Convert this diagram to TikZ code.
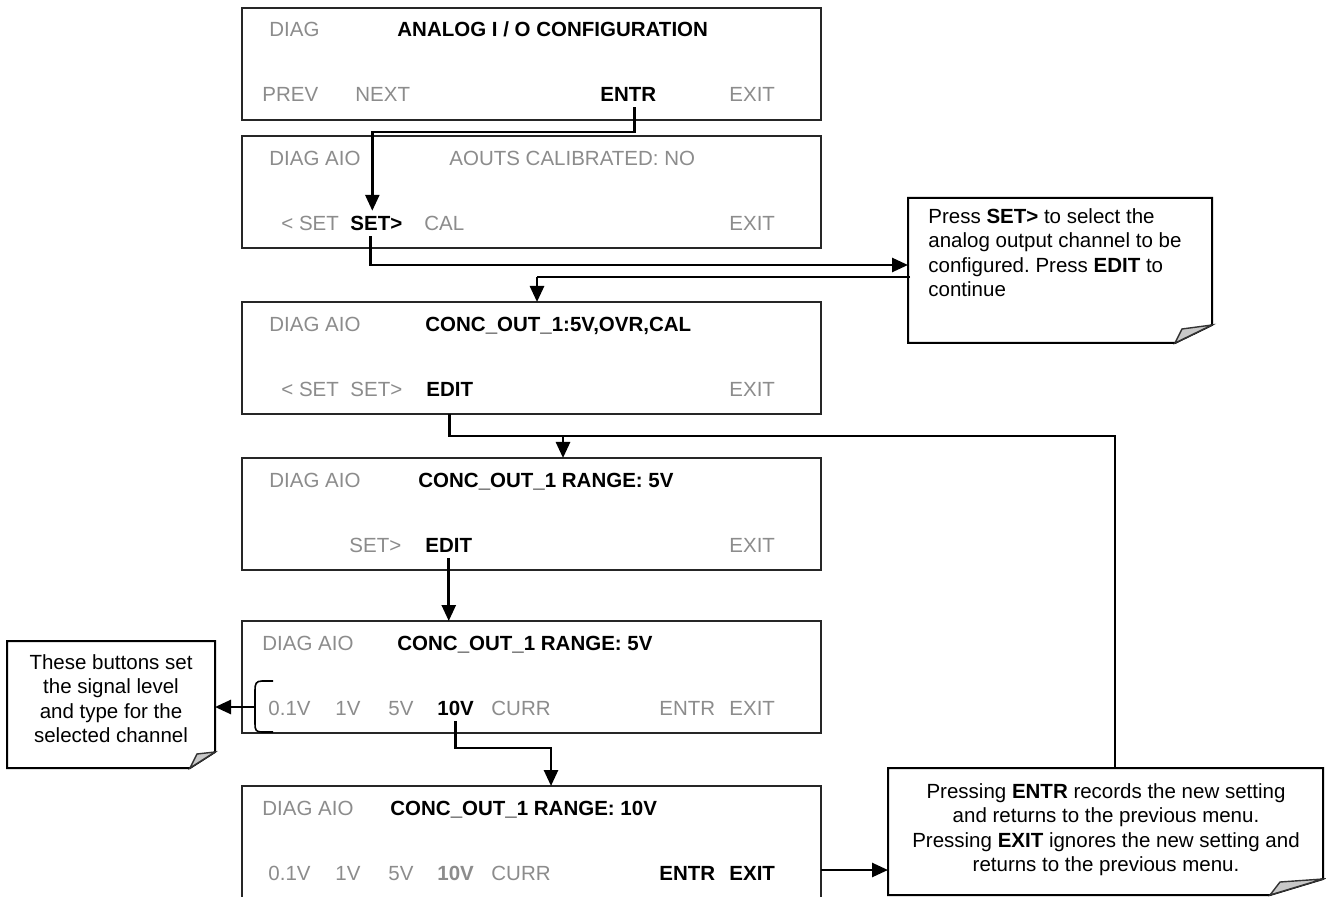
\documentclass[tikz,border=0pt]{standalone}
\usepackage{fontspec}
\setmainfont{Liberation Sans}
\usetikzlibrary{arrows.meta,calc}
\definecolor{lcdgray}{RGB}{140,140,140}
\definecolor{flapgray}{RGB}{200,200,200}
\newcommand{\lcdf}{\fontsize{10.25}{12.2}\selectfont}
\frenchspacing
\begin{document}
\begin{tikzpicture}[x=0.5pt,y=-0.5pt,
  lcdbox/.style={draw=black!85, line width=1pt, minimum width=289.5pt, minimum height=56pt, inner sep=0pt, outer sep=0pt},
  txt/.style={anchor=base west, inner xsep=0pt, inner ysep=2.5pt, font=\lcdf},
  gr/.style={txt, text=lcdgray},
  bd/.style={txt, font=\lcdf\bfseries},
  grb/.style={txt, font=\lcdf\bfseries, text=lcdgray},
  conn/.style={line width=1.3pt, draw=black},
  arr/.style={conn, -{Triangle[length=8pt,width=7pt]}},
  ret/.style={line width=0.7pt, draw=black},
  noteline/.style={line width=1pt, draw=black, fill=white},
  flap/.style={line width=0.7pt, draw=black!80, fill=flapgray},
  notetxt/.style={inner sep=0pt, font=\lcdf},
  notearea/.style={inner sep=0pt, outer sep=0pt},
  bracket/.style={line width=0.8pt, draw=black}
]
\useasboundingbox (0,0) rectangle (1326,897);
\clip (0,0) rectangle (1326,897);
\fill[white] (0,0) rectangle (1326,897);

% ---------- LCD boxes ----------
\node[lcdbox] (b1) at (531.5,64) {};
\node[lcdbox] (b2) at (531.5,192) {};
\node[lcdbox] (b3) at (531.5,358) {};
\node[lcdbox] (b4) at (531.5,514) {};
\node[lcdbox] (b5) at (531.5,677) {};
\node[lcdbox, minimum height=58pt] (b6) at (531.5,844) {};

% box 1
\node[gr] (d1) at (269,37) {DIAG};
\node[bd] (h1) at (397,37) {ANALOG I / O CONFIGURATION};
\node[gr] (p1) at (262,102) {PREV};
\node[gr] (nx1) at (355,102) {NEXT};
\node[bd] (e1) at (600,102) {ENTR};
\node[gr] (x1) at (729,102) {EXIT};

% box 2
\node[gr] (d2) at (269,165.5) {DIAG AIO};
\node[gr] (h2) at (449,165.5) {AOUTS CALIBRATED: NO};
\node[gr] (ls2) at (281,230.5) {< SET};
\node[bd] (s2) at (350,230.5) {SET>};
\node[gr] (c2) at (424,230.5) {CAL};
\node[gr] (x2) at (729,230.5) {EXIT};

% box 3
\node[gr] (d3) at (269,331.5) {DIAG AIO};
\node[bd] (h3) at (425,331.5) {CONC\_OUT\_1:5V,OVR,CAL};
\node[gr] (ls3) at (281,396.5) {< SET};
\node[gr] (s3) at (350,396.5) {SET>};
\node[bd] (ed3) at (426,396.5) {EDIT};
\node[gr] (x3) at (729,396.5) {EXIT};

% box 4
\node[gr] (d4) at (269,487.5) {DIAG AIO};
\node[bd] (h4) at (418,487.5) {CONC\_OUT\_1 RANGE: 5V};
\node[gr] (s4) at (349,552.5) {SET>};
\node[bd] (ed4) at (425,552.5) {EDIT};
\node[gr] (x4) at (729,552.5) {EXIT};

% box 5
\node[gr] (d5) at (262,650.5) {DIAG AIO};
\node[bd] (h5) at (397,650.5) {CONC\_OUT\_1 RANGE: 5V};
\node[gr] (a5) at (268,715.5) {0.1V};
\node[gr] (o5) at (335,715.5) {1V};
\node[gr] (f5) at (388,715.5) {5V};
\node[bd] (tv5) at (437,715.5) {10V};
\node[gr] (cu5) at (491,715.5) {CURR};
\node[gr] (en5) at (659,715.5) {ENTR};
\node[gr] (x5) at (729,715.5) {EXIT};

% box 6
\node[gr] (d6) at (262,815.5) {DIAG AIO};
\node[bd] (h6) at (390,815.5) {CONC\_OUT\_1 RANGE: 10V};
\node[gr] (a6) at (268,880.5) {0.1V};
\node[gr] (o6) at (335,880.5) {1V};
\node[gr] (f6) at (388,880.5) {5V};
\node[grb] (tv6) at (437,880.5) {10V};
\node[gr] (cu6) at (491,880.5) {CURR};
\node[bd] (en6) at (659,880.5) {ENTR};
\node[bd] (x6) at (729,880.5) {EXIT};

% ---------- notes ----------
\node[notearea, minimum width=152pt, minimum height=72.5pt] (n1) at (1060,270.5) {};
\draw[noteline] (908,198) -- (1212,198) -- (1212,325) -- (1175,343) -- (908,343) -- cycle;
\filldraw[flap] (1175,343) -- (1182,329) -- (1212,325) -- cycle;
\node[notetxt, anchor=north west, align=left] (t1) at (928,208)
  {Press \textbf{SET>} to select the\\analog output channel to be\\configured. Press \textbf{EDIT} to\\continue};

\node[notearea, minimum width=104pt, minimum height=63.5pt] (n2) at (111,704.5) {};
\draw[noteline] (7,641) -- (215,641) -- (215,752) -- (190,768) -- (7,768) -- cycle;
\filldraw[flap] (190,768) -- (197,754) -- (215,752) -- cycle;
\node[notetxt, anchor=north, align=center] (t2) at (111,654)
  {These buttons set\\the signal level\\and type for the\\selected channel};

\node[notearea, minimum width=217.5pt, minimum height=63.5pt] (n3) at (1105.5,831.5) {};
\draw[noteline] (888,768) -- (1323,768) -- (1323,879) -- (1270,895) -- (888,895) -- cycle;
\filldraw[flap] (1270,895) -- (1280,882) -- (1323,879) -- cycle;
\node[notetxt, anchor=north, align=center] (t3) at (1106,783)
  {Pressing \textbf{ENTR} records the new setting\\and returns to the previous menu.\\Pressing \textbf{EXIT} ignores the new setting and\\returns to the previous menu.};

% ---------- connectors ----------
\coordinate (k1) at (0,132);
\draw[arr] ([xshift=3pt]e1.south) -- ([xshift=3pt]e1.south |- k1) -| ([xshift=-2pt]s2.north);

\coordinate (k2) at (0,265);
\draw[arr] ([xshift=-3pt]s2.south) |- (n1.west |- k2);

\coordinate (k3) at (537,277);
\draw[conn] ([xshift=1pt]n1.west |- k3) -- (k3);
\draw[arr] (k3) -- (k3 |- b3.north);

\coordinate (k4) at (563,436);
\draw[arr] (ed3 |- b3.south) |- (k4) -- (k4 |- b4.north);

\coordinate (k5) at (1115,436);
\draw[ret] (k5 |- n3.north) -- (k5) -- (k4);

\draw[arr] (ed4.south) -- (ed4.south |- b5.north);

\coordinate (br) at (255,707);
\draw[bracket] (273,681) -- (262,681) .. controls (256,681) and (255,684) .. (255,690) -- (255,724) .. controls (255,730) and (256,732) .. (262,732) -- (273,732);
\draw[arr] (br) -- (br -| n2.east);

\coordinate (k6) at (551,748);
\draw[arr] (tv5.south) |- (k6) -- (k6 |- b6.north);

\coordinate (k7) at (0,870);
\draw[arr] (b6.east |- k7) -- (n3.west |- k7);
\end{tikzpicture}
\end{document}
